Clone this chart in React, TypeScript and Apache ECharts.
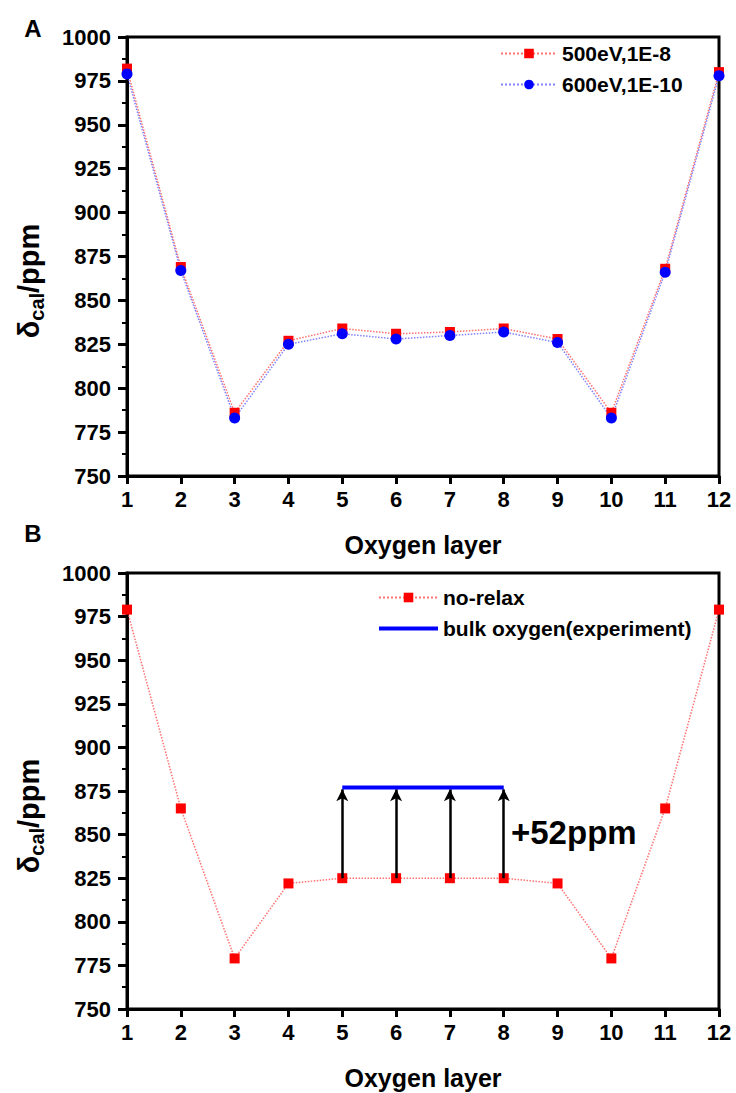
import React, { useEffect, useRef } from "react";
import * as echarts from "echarts";

const layers = [1, 2, 3, 4, 5, 6, 7, 8, 9, 10, 11, 12];
const seriesA1Name = "500eV,1E-8";
const seriesA2Name = "600eV,1E-10";
const valuesA1 = [982, 869, 786, 827, 834, 831, 832, 834, 828, 786, 868, 980];
const valuesA2 = [979, 867, 783, 825, 831, 828, 830, 832, 826, 783, 866, 978];

const seriesB1Name = "no-relax";
const seriesB2Name = "bulk oxygen(experiment)";
const valuesB1 = [979, 865, 779, 822, 825, 825, 825, 825, 822, 779, 865, 979];
const bulkLayers = [5, 8];
const bulkValue = 877;
const arrowLayers = [5, 6, 7, 8];
const shiftLabel = "+52ppm";

const yTicks = { min: 750, max: 1000, interval: 25 };
const xTicks = { min: 1, max: 12, interval: 1 };

const FONT = 'Arial, "Liberation Sans", sans-serif';
const LINE_ICON = "path://M0,0L0.01,0Z M0,4L59,4L59,8L0,8Z M0,12L0.01,12Z";

function xAxisCfg(gridIndex: number) {
  return {
    type: "value",
    gridIndex,
    min: xTicks.min,
    max: xTicks.max,
    interval: xTicks.interval,
    axisLine: { show: true, onZero: false, lineStyle: { color: "#000", width: 3 } },
    axisTick: { show: true, inside: false, length: 8, lineStyle: { color: "#000", width: 3 } },
    axisLabel: { fontSize: 22, fontWeight: "bold", color: "#000", margin: 12, fontFamily: FONT, formatter: (v: number) => String(v) },
    splitLine: { show: false },
    name: "Oxygen layer",
    nameLocation: "middle",
    nameGap: 56,
    nameTextStyle: { fontSize: 25, fontWeight: "bold", color: "#000", fontFamily: FONT },
  };
}

function yAxisCfg(gridIndex: number) {
  return {
    type: "value",
    gridIndex,
    min: yTicks.min,
    max: yTicks.max,
    interval: yTicks.interval,
    axisLine: { show: true, onZero: false, lineStyle: { color: "#000", width: 3 } },
    axisTick: { show: true, inside: false, length: 9, lineStyle: { color: "#000", width: 3 } },
    minorTick: { show: true, splitNumber: 2, length: 5, lineStyle: { color: "#000", width: 2 } },
    axisLabel: { fontSize: 22, fontWeight: "bold", color: "#000", margin: 16, fontFamily: FONT, formatter: (v: number) => String(v) },
    splitLine: { show: false },
    minorSplitLine: { show: false },
  };
}

function yName(x: number, y: number) {
  return {
    type: "text",
    x,
    y,
    rotation: Math.PI / 2,
    style: {
      text: "{a|δ}{b|cal}{a|/ppm}",
      align: "center",
      verticalAlign: "middle",
      fill: "#000",
      rich: {
        a: { fontSize: 29, fontWeight: "bold", fontFamily: FONT, lineHeight: 36, verticalAlign: "middle", fill: "#000" },
        b: { fontSize: 20, fontWeight: "bold", fontFamily: FONT, lineHeight: 20, verticalAlign: "bottom", fill: "#000" },
      },
    },
  };
}

export default function App() {
  const ref = useRef<HTMLDivElement>(null);
  useEffect(() => {
    if (!ref.current) return;
    const chart = echarts.init(ref.current, null, { renderer: "svg" });
    const pairs = (vals: number[]) => layers.map((l, i) => [l, vals[i]]);
    const legendText = { fontSize: 21, fontWeight: "bold", color: "#000", fontFamily: FONT };
    const option: any = {
      animation: false,
      backgroundColor: "#fff",
      grid: [
        { left: 127, top: 37, width: 592, height: 439, show: true, borderColor: "#000", borderWidth: 3, backgroundColor: "transparent" },
        { left: 127, top: 573, width: 592, height: 436, show: true, borderColor: "#000", borderWidth: 3, backgroundColor: "transparent" },
      ],
      xAxis: [xAxisCfg(0), xAxisCfg(1)],
      yAxis: [yAxisCfg(0), yAxisCfg(1)],
      legend: [
        {
          data: [seriesA1Name, seriesA2Name],
          orient: "vertical",
          left: 500,
          top: 43,
          itemWidth: 56,
          itemHeight: 12,
          itemGap: 10,
          padding: 0,
          selectedMode: false,
          textStyle: legendText,
        },
        {
          data: [seriesB1Name, { name: seriesB2Name, icon: LINE_ICON, itemStyle: { color: "#0000ff" } }],
          orient: "vertical",
          left: 378,
          top: 587,
          itemWidth: 59,
          itemHeight: 12,
          itemGap: 10,
          padding: 0,
          selectedMode: false,
          textStyle: legendText,
        },
      ],
      series: [
        {
          name: seriesA1Name,
          type: "line",
          xAxisIndex: 0,
          yAxisIndex: 0,
          data: pairs(valuesA1),
          symbol: "rect",
          symbolSize: 10,
          itemStyle: { color: "#ff0000" },
          lineStyle: { color: "#ff4d4d", width: 1.5, type: "dotted", opacity: 0.8 },
          emphasis: { disabled: true },
        },
        {
          name: seriesA2Name,
          type: "line",
          xAxisIndex: 0,
          yAxisIndex: 0,
          data: pairs(valuesA2),
          symbol: "circle",
          symbolSize: 11,
          itemStyle: { color: "#0000ff" },
          lineStyle: { color: "#4d4dff", width: 1.5, type: "dotted", opacity: 0.7 },
          emphasis: { disabled: true },
        },
        {
          name: seriesB1Name,
          type: "line",
          xAxisIndex: 1,
          yAxisIndex: 1,
          data: pairs(valuesB1),
          symbol: "rect",
          symbolSize: 10,
          itemStyle: { color: "#ff0000" },
          lineStyle: { color: "#ff4d4d", width: 1.5, type: "dotted", opacity: 0.8 },
          emphasis: { disabled: true },
          markLine: {
            silent: true,
            symbol: ["none", "arrow"],
            symbolSize: [9, 12],
            label: { show: false },
            lineStyle: { color: "#000", width: 2.5, type: "solid" },
            emphasis: { disabled: true },
            data: arrowLayers.map((l) => [
              { coord: [l, valuesB1[layers.indexOf(l)]] },
              { coord: [l, bulkValue - 1] },
            ]),
          },
        },
        {
          name: seriesB2Name,
          type: "line",
          xAxisIndex: 1,
          yAxisIndex: 1,
          data: bulkLayers.map((l) => [l, bulkValue]),
          symbol: "none",
          showSymbol: false,
          itemStyle: { color: "#0000ff" },
          lineStyle: { color: "#0000ff", width: 4 },
          z: 5,
          emphasis: { disabled: true },
        },
      ],
      graphic: [
        { type: "text", x: 33, y: 28, style: { text: "A", font: `bold 24px ${FONT}`, align: "center", verticalAlign: "middle", fill: "#000" } },
        { type: "text", x: 33, y: 533, style: { text: "B", font: `bold 24px ${FONT}`, align: "center", verticalAlign: "middle", fill: "#000" } },
        yName(29, 281),
        yName(29, 816),
        { type: "text", x: 511, y: 832, style: { text: shiftLabel, font: `bold 33px ${FONT}`, align: "left", verticalAlign: "middle", fill: "#000" } },
      ],
    };
    chart.setOption(option);
    return () => chart.dispose();
  }, []);
  return <div ref={ref} style={{ position: "absolute", left: 0, top: 0, width: 736, height: 1093 }} />;
}
